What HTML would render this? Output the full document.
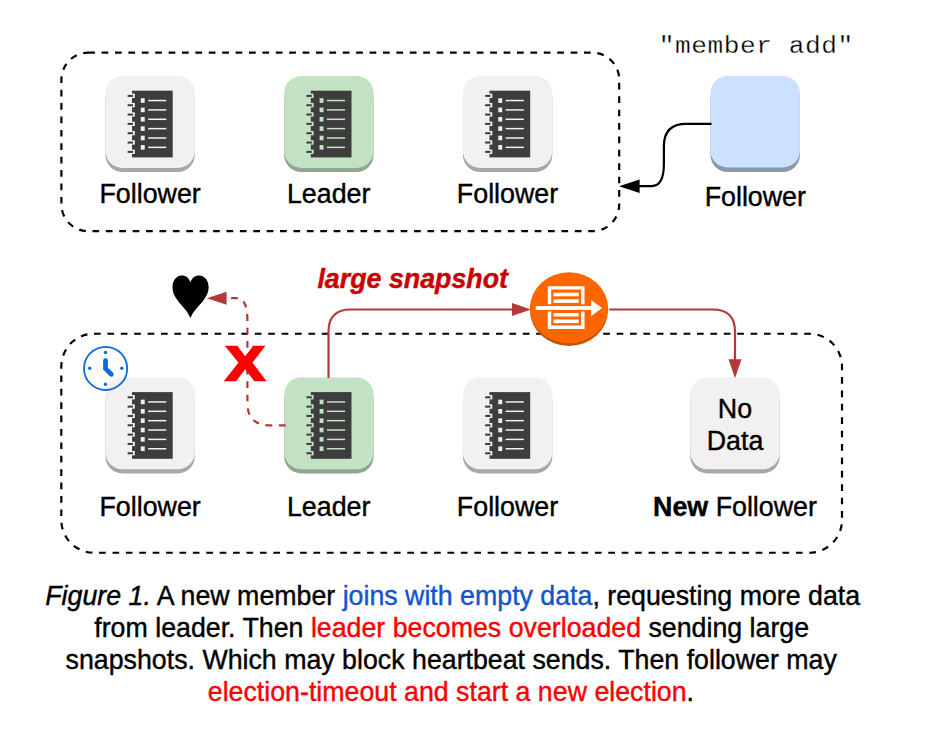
<!DOCTYPE html>
<html lang="en">
<head>
<meta charset="utf-8">
<title>Figure 1</title>
<style>
html,body{margin:0;padding:0;background:#ffffff;}
body{width:928px;height:747px;overflow:hidden;position:relative;}
svg{position:absolute;left:0;top:0;display:block;}
text{font-family:"Liberation Sans",Arial,Helvetica,sans-serif;font-size:26.8px;fill:#000;stroke:#000;stroke-width:0.4px;}
.blue{stroke:#1155cc;}
.red{stroke:#ff0000;}
.mono{font-family:"Liberation Mono","Courier New",monospace;font-size:26.2px;stroke:#fff;stroke-width:0.3px;letter-spacing:0.55px;}
.lbl{text-anchor:middle;}
.cap{text-anchor:middle;font-size:26.75px;}
.blue{fill:#1155cc;}
.red{fill:#ff0000;}
</style>
</head>
<body>
<svg width="928" height="747" viewBox="0 0 928 747">
<rect x="0" y="0" width="928" height="747" fill="#ffffff"/>

<rect x="61.4" y="52.7" width="557.8" height="178.5" rx="26.8" ry="26.8" fill="none" stroke="#000" stroke-width="2.2" stroke-dasharray="6.7 6.7"/>
<rect x="61.3" y="333.75" width="780.7" height="219" rx="32.7" ry="32.7" fill="none" stroke="#000" stroke-width="2.2" stroke-dasharray="6.7 6.7"/>
<rect x="105.40" y="82.00" width="89.4" height="90" rx="17" ry="17" fill="#a8a8a8"/>
<rect x="105.40" y="76.10" width="89.4" height="91.8" rx="17" ry="17" fill="#f2f0f1"/>
<rect x="132.00" y="90.70" width="40.70" height="66.70" fill="#3d3d3d"/>
<rect x="131.10" y="93.60" width="3.7" height="4.4" fill="#f2f0f1"/>
<rect x="127.60" y="94.90" width="5.4" height="2" fill="#3d3d3d"/>
<rect x="131.10" y="102.93" width="3.7" height="4.4" fill="#f2f0f1"/>
<rect x="127.60" y="104.23" width="5.4" height="2" fill="#3d3d3d"/>
<rect x="131.10" y="112.26" width="3.7" height="4.4" fill="#f2f0f1"/>
<rect x="127.60" y="113.56" width="5.4" height="2" fill="#3d3d3d"/>
<rect x="131.10" y="121.59" width="3.7" height="4.4" fill="#f2f0f1"/>
<rect x="127.60" y="122.89" width="5.4" height="2" fill="#3d3d3d"/>
<rect x="131.10" y="130.92" width="3.7" height="4.4" fill="#f2f0f1"/>
<rect x="127.60" y="132.22" width="5.4" height="2" fill="#3d3d3d"/>
<rect x="131.10" y="140.25" width="3.7" height="4.4" fill="#f2f0f1"/>
<rect x="127.60" y="141.55" width="5.4" height="2" fill="#3d3d3d"/>
<rect x="131.10" y="149.58" width="3.7" height="4.4" fill="#f2f0f1"/>
<rect x="127.60" y="150.88" width="5.4" height="2" fill="#3d3d3d"/>
<rect x="140.80" y="98.25" width="3.9" height="4.6" fill="#f2f0f1"/>
<rect x="148.10" y="99.80" width="18.2" height="1.5" fill="#f2f0f1"/>
<rect x="140.80" y="107.61" width="3.9" height="4.6" fill="#f2f0f1"/>
<rect x="148.10" y="109.16" width="18.2" height="1.5" fill="#f2f0f1"/>
<rect x="140.80" y="116.97" width="3.9" height="4.6" fill="#f2f0f1"/>
<rect x="148.10" y="118.52" width="18.2" height="1.5" fill="#f2f0f1"/>
<rect x="140.80" y="126.33" width="3.9" height="4.6" fill="#f2f0f1"/>
<rect x="148.10" y="127.88" width="18.2" height="1.5" fill="#f2f0f1"/>
<rect x="140.80" y="135.69" width="3.9" height="4.6" fill="#f2f0f1"/>
<rect x="148.10" y="137.24" width="18.2" height="1.5" fill="#f2f0f1"/>
<rect x="140.80" y="145.05" width="3.9" height="4.6" fill="#f2f0f1"/>
<rect x="148.10" y="146.60" width="18.2" height="1.5" fill="#f2f0f1"/>
<rect x="284.20" y="82.00" width="89.4" height="90" rx="17" ry="17" fill="#8fa690"/>
<rect x="284.20" y="76.10" width="89.4" height="91.8" rx="17" ry="17" fill="#c3e2c4"/>
<rect x="310.80" y="90.70" width="40.70" height="66.70" fill="#3d3d3d"/>
<rect x="309.90" y="93.60" width="3.7" height="4.4" fill="#c3e2c4"/>
<rect x="306.40" y="94.90" width="5.4" height="2" fill="#3d3d3d"/>
<rect x="309.90" y="102.93" width="3.7" height="4.4" fill="#c3e2c4"/>
<rect x="306.40" y="104.23" width="5.4" height="2" fill="#3d3d3d"/>
<rect x="309.90" y="112.26" width="3.7" height="4.4" fill="#c3e2c4"/>
<rect x="306.40" y="113.56" width="5.4" height="2" fill="#3d3d3d"/>
<rect x="309.90" y="121.59" width="3.7" height="4.4" fill="#c3e2c4"/>
<rect x="306.40" y="122.89" width="5.4" height="2" fill="#3d3d3d"/>
<rect x="309.90" y="130.92" width="3.7" height="4.4" fill="#c3e2c4"/>
<rect x="306.40" y="132.22" width="5.4" height="2" fill="#3d3d3d"/>
<rect x="309.90" y="140.25" width="3.7" height="4.4" fill="#c3e2c4"/>
<rect x="306.40" y="141.55" width="5.4" height="2" fill="#3d3d3d"/>
<rect x="309.90" y="149.58" width="3.7" height="4.4" fill="#c3e2c4"/>
<rect x="306.40" y="150.88" width="5.4" height="2" fill="#3d3d3d"/>
<rect x="319.60" y="98.25" width="3.9" height="4.6" fill="#c3e2c4"/>
<rect x="326.90" y="99.80" width="18.2" height="1.5" fill="#c3e2c4"/>
<rect x="319.60" y="107.61" width="3.9" height="4.6" fill="#c3e2c4"/>
<rect x="326.90" y="109.16" width="18.2" height="1.5" fill="#c3e2c4"/>
<rect x="319.60" y="116.97" width="3.9" height="4.6" fill="#c3e2c4"/>
<rect x="326.90" y="118.52" width="18.2" height="1.5" fill="#c3e2c4"/>
<rect x="319.60" y="126.33" width="3.9" height="4.6" fill="#c3e2c4"/>
<rect x="326.90" y="127.88" width="18.2" height="1.5" fill="#c3e2c4"/>
<rect x="319.60" y="135.69" width="3.9" height="4.6" fill="#c3e2c4"/>
<rect x="326.90" y="137.24" width="18.2" height="1.5" fill="#c3e2c4"/>
<rect x="319.60" y="145.05" width="3.9" height="4.6" fill="#c3e2c4"/>
<rect x="326.90" y="146.60" width="18.2" height="1.5" fill="#c3e2c4"/>
<rect x="462.90" y="82.00" width="89.4" height="90" rx="17" ry="17" fill="#a8a8a8"/>
<rect x="462.90" y="76.10" width="89.4" height="91.8" rx="17" ry="17" fill="#f2f0f1"/>
<rect x="489.50" y="90.70" width="40.70" height="66.70" fill="#3d3d3d"/>
<rect x="488.60" y="93.60" width="3.7" height="4.4" fill="#f2f0f1"/>
<rect x="485.10" y="94.90" width="5.4" height="2" fill="#3d3d3d"/>
<rect x="488.60" y="102.93" width="3.7" height="4.4" fill="#f2f0f1"/>
<rect x="485.10" y="104.23" width="5.4" height="2" fill="#3d3d3d"/>
<rect x="488.60" y="112.26" width="3.7" height="4.4" fill="#f2f0f1"/>
<rect x="485.10" y="113.56" width="5.4" height="2" fill="#3d3d3d"/>
<rect x="488.60" y="121.59" width="3.7" height="4.4" fill="#f2f0f1"/>
<rect x="485.10" y="122.89" width="5.4" height="2" fill="#3d3d3d"/>
<rect x="488.60" y="130.92" width="3.7" height="4.4" fill="#f2f0f1"/>
<rect x="485.10" y="132.22" width="5.4" height="2" fill="#3d3d3d"/>
<rect x="488.60" y="140.25" width="3.7" height="4.4" fill="#f2f0f1"/>
<rect x="485.10" y="141.55" width="5.4" height="2" fill="#3d3d3d"/>
<rect x="488.60" y="149.58" width="3.7" height="4.4" fill="#f2f0f1"/>
<rect x="485.10" y="150.88" width="5.4" height="2" fill="#3d3d3d"/>
<rect x="498.30" y="98.25" width="3.9" height="4.6" fill="#f2f0f1"/>
<rect x="505.60" y="99.80" width="18.2" height="1.5" fill="#f2f0f1"/>
<rect x="498.30" y="107.61" width="3.9" height="4.6" fill="#f2f0f1"/>
<rect x="505.60" y="109.16" width="18.2" height="1.5" fill="#f2f0f1"/>
<rect x="498.30" y="116.97" width="3.9" height="4.6" fill="#f2f0f1"/>
<rect x="505.60" y="118.52" width="18.2" height="1.5" fill="#f2f0f1"/>
<rect x="498.30" y="126.33" width="3.9" height="4.6" fill="#f2f0f1"/>
<rect x="505.60" y="127.88" width="18.2" height="1.5" fill="#f2f0f1"/>
<rect x="498.30" y="135.69" width="3.9" height="4.6" fill="#f2f0f1"/>
<rect x="505.60" y="137.24" width="18.2" height="1.5" fill="#f2f0f1"/>
<rect x="498.30" y="145.05" width="3.9" height="4.6" fill="#f2f0f1"/>
<rect x="505.60" y="146.60" width="18.2" height="1.5" fill="#f2f0f1"/>
<rect x="710.50" y="82.00" width="89.4" height="90" rx="17" ry="17" fill="#8a98ad"/>
<rect x="710.50" y="76.10" width="89.4" height="91.3" rx="17" ry="17" fill="#cce0ff"/>

<rect x="105.40" y="383.40" width="89.4" height="90" rx="17" ry="17" fill="#a8a8a8"/>
<rect x="105.40" y="377.50" width="89.4" height="91.8" rx="17" ry="17" fill="#f2f0f1"/>
<rect x="132.00" y="392.10" width="40.70" height="66.70" fill="#3d3d3d"/>
<rect x="131.10" y="395.00" width="3.7" height="4.4" fill="#f2f0f1"/>
<rect x="127.60" y="396.30" width="5.4" height="2" fill="#3d3d3d"/>
<rect x="131.10" y="404.33" width="3.7" height="4.4" fill="#f2f0f1"/>
<rect x="127.60" y="405.63" width="5.4" height="2" fill="#3d3d3d"/>
<rect x="131.10" y="413.66" width="3.7" height="4.4" fill="#f2f0f1"/>
<rect x="127.60" y="414.96" width="5.4" height="2" fill="#3d3d3d"/>
<rect x="131.10" y="422.99" width="3.7" height="4.4" fill="#f2f0f1"/>
<rect x="127.60" y="424.29" width="5.4" height="2" fill="#3d3d3d"/>
<rect x="131.10" y="432.32" width="3.7" height="4.4" fill="#f2f0f1"/>
<rect x="127.60" y="433.62" width="5.4" height="2" fill="#3d3d3d"/>
<rect x="131.10" y="441.65" width="3.7" height="4.4" fill="#f2f0f1"/>
<rect x="127.60" y="442.95" width="5.4" height="2" fill="#3d3d3d"/>
<rect x="131.10" y="450.98" width="3.7" height="4.4" fill="#f2f0f1"/>
<rect x="127.60" y="452.28" width="5.4" height="2" fill="#3d3d3d"/>
<rect x="140.80" y="399.65" width="3.9" height="4.6" fill="#f2f0f1"/>
<rect x="148.10" y="401.20" width="18.2" height="1.5" fill="#f2f0f1"/>
<rect x="140.80" y="409.01" width="3.9" height="4.6" fill="#f2f0f1"/>
<rect x="148.10" y="410.56" width="18.2" height="1.5" fill="#f2f0f1"/>
<rect x="140.80" y="418.37" width="3.9" height="4.6" fill="#f2f0f1"/>
<rect x="148.10" y="419.92" width="18.2" height="1.5" fill="#f2f0f1"/>
<rect x="140.80" y="427.73" width="3.9" height="4.6" fill="#f2f0f1"/>
<rect x="148.10" y="429.28" width="18.2" height="1.5" fill="#f2f0f1"/>
<rect x="140.80" y="437.09" width="3.9" height="4.6" fill="#f2f0f1"/>
<rect x="148.10" y="438.64" width="18.2" height="1.5" fill="#f2f0f1"/>
<rect x="140.80" y="446.45" width="3.9" height="4.6" fill="#f2f0f1"/>
<rect x="148.10" y="448.00" width="18.2" height="1.5" fill="#f2f0f1"/>
<rect x="284.20" y="383.40" width="89.4" height="90" rx="17" ry="17" fill="#8fa690"/>
<rect x="284.20" y="377.50" width="89.4" height="91.8" rx="17" ry="17" fill="#c3e2c4"/>
<rect x="310.80" y="392.10" width="40.70" height="66.70" fill="#3d3d3d"/>
<rect x="309.90" y="395.00" width="3.7" height="4.4" fill="#c3e2c4"/>
<rect x="306.40" y="396.30" width="5.4" height="2" fill="#3d3d3d"/>
<rect x="309.90" y="404.33" width="3.7" height="4.4" fill="#c3e2c4"/>
<rect x="306.40" y="405.63" width="5.4" height="2" fill="#3d3d3d"/>
<rect x="309.90" y="413.66" width="3.7" height="4.4" fill="#c3e2c4"/>
<rect x="306.40" y="414.96" width="5.4" height="2" fill="#3d3d3d"/>
<rect x="309.90" y="422.99" width="3.7" height="4.4" fill="#c3e2c4"/>
<rect x="306.40" y="424.29" width="5.4" height="2" fill="#3d3d3d"/>
<rect x="309.90" y="432.32" width="3.7" height="4.4" fill="#c3e2c4"/>
<rect x="306.40" y="433.62" width="5.4" height="2" fill="#3d3d3d"/>
<rect x="309.90" y="441.65" width="3.7" height="4.4" fill="#c3e2c4"/>
<rect x="306.40" y="442.95" width="5.4" height="2" fill="#3d3d3d"/>
<rect x="309.90" y="450.98" width="3.7" height="4.4" fill="#c3e2c4"/>
<rect x="306.40" y="452.28" width="5.4" height="2" fill="#3d3d3d"/>
<rect x="319.60" y="399.65" width="3.9" height="4.6" fill="#c3e2c4"/>
<rect x="326.90" y="401.20" width="18.2" height="1.5" fill="#c3e2c4"/>
<rect x="319.60" y="409.01" width="3.9" height="4.6" fill="#c3e2c4"/>
<rect x="326.90" y="410.56" width="18.2" height="1.5" fill="#c3e2c4"/>
<rect x="319.60" y="418.37" width="3.9" height="4.6" fill="#c3e2c4"/>
<rect x="326.90" y="419.92" width="18.2" height="1.5" fill="#c3e2c4"/>
<rect x="319.60" y="427.73" width="3.9" height="4.6" fill="#c3e2c4"/>
<rect x="326.90" y="429.28" width="18.2" height="1.5" fill="#c3e2c4"/>
<rect x="319.60" y="437.09" width="3.9" height="4.6" fill="#c3e2c4"/>
<rect x="326.90" y="438.64" width="18.2" height="1.5" fill="#c3e2c4"/>
<rect x="319.60" y="446.45" width="3.9" height="4.6" fill="#c3e2c4"/>
<rect x="326.90" y="448.00" width="18.2" height="1.5" fill="#c3e2c4"/>
<rect x="462.90" y="383.40" width="89.4" height="90" rx="17" ry="17" fill="#a8a8a8"/>
<rect x="462.90" y="377.50" width="89.4" height="91.8" rx="17" ry="17" fill="#f2f0f1"/>
<rect x="489.50" y="392.10" width="40.70" height="66.70" fill="#3d3d3d"/>
<rect x="488.60" y="395.00" width="3.7" height="4.4" fill="#f2f0f1"/>
<rect x="485.10" y="396.30" width="5.4" height="2" fill="#3d3d3d"/>
<rect x="488.60" y="404.33" width="3.7" height="4.4" fill="#f2f0f1"/>
<rect x="485.10" y="405.63" width="5.4" height="2" fill="#3d3d3d"/>
<rect x="488.60" y="413.66" width="3.7" height="4.4" fill="#f2f0f1"/>
<rect x="485.10" y="414.96" width="5.4" height="2" fill="#3d3d3d"/>
<rect x="488.60" y="422.99" width="3.7" height="4.4" fill="#f2f0f1"/>
<rect x="485.10" y="424.29" width="5.4" height="2" fill="#3d3d3d"/>
<rect x="488.60" y="432.32" width="3.7" height="4.4" fill="#f2f0f1"/>
<rect x="485.10" y="433.62" width="5.4" height="2" fill="#3d3d3d"/>
<rect x="488.60" y="441.65" width="3.7" height="4.4" fill="#f2f0f1"/>
<rect x="485.10" y="442.95" width="5.4" height="2" fill="#3d3d3d"/>
<rect x="488.60" y="450.98" width="3.7" height="4.4" fill="#f2f0f1"/>
<rect x="485.10" y="452.28" width="5.4" height="2" fill="#3d3d3d"/>
<rect x="498.30" y="399.65" width="3.9" height="4.6" fill="#f2f0f1"/>
<rect x="505.60" y="401.20" width="18.2" height="1.5" fill="#f2f0f1"/>
<rect x="498.30" y="409.01" width="3.9" height="4.6" fill="#f2f0f1"/>
<rect x="505.60" y="410.56" width="18.2" height="1.5" fill="#f2f0f1"/>
<rect x="498.30" y="418.37" width="3.9" height="4.6" fill="#f2f0f1"/>
<rect x="505.60" y="419.92" width="18.2" height="1.5" fill="#f2f0f1"/>
<rect x="498.30" y="427.73" width="3.9" height="4.6" fill="#f2f0f1"/>
<rect x="505.60" y="429.28" width="18.2" height="1.5" fill="#f2f0f1"/>
<rect x="498.30" y="437.09" width="3.9" height="4.6" fill="#f2f0f1"/>
<rect x="505.60" y="438.64" width="18.2" height="1.5" fill="#f2f0f1"/>
<rect x="498.30" y="446.45" width="3.9" height="4.6" fill="#f2f0f1"/>
<rect x="505.60" y="448.00" width="18.2" height="1.5" fill="#f2f0f1"/>
<rect x="690.30" y="383.40" width="89.4" height="90" rx="17" ry="17" fill="#a8a8a8"/>
<rect x="690.30" y="377.50" width="89.4" height="91.8" rx="17" ry="17" fill="#f2f0f1"/>

<text class="lbl" x="150.1" y="203">Follower</text>
<text class="lbl" x="150.1" y="516">Follower</text>
<text class="lbl" x="328.7" y="203">Leader</text>
<text class="lbl" x="328.7" y="516">Leader</text>
<text class="lbl" x="507.5" y="203">Follower</text>
<text class="lbl" x="507.5" y="516">Follower</text>
<text class="lbl" x="755.3" y="206">Follower</text>
<text class="lbl" x="735" y="515.8"><tspan font-weight="bold">New</tspan> Follower</text>
<text class="lbl" x="735" y="417.9">No</text>
<text class="lbl" x="735" y="450">Data</text>
<text class="mono lbl" x="756.3" y="52.6" transform="translate(0 52.6) scale(1 0.94) translate(0 -52.6)">"member add"</text>
<text x="317.4" y="287.6" font-weight="bold" font-style="italic" style="fill:#cc0000;stroke:#cc0000">large snapshot</text>
<path d="M711.5 123.9 H686.2 Q663.9 123.9 663.9 146.2 V163.8 Q663.9 186.1 651.7 186.1 H639" fill="none" stroke="#000" stroke-width="2.2"/>
<path d="M619 186.3 L639.6 179.5 L639.6 193.1 Z" fill="#000"/>
<path d="M328.5 378 V331.8 Q328.5 309.5 350.8 309.5 H513" fill="none" stroke="#b5393c" stroke-width="2.2"/>
<path d="M531 309.5 L512 303 L512 316 Z" fill="#b5393c"/>
<path d="M609.2 309.5 H712.7 Q735 309.5 735 331.8 V360" fill="none" stroke="#b5393c" stroke-width="2.2"/>
<path d="M735 378.2 L728.5 359.3 L741.5 359.3 Z" fill="#b5393c"/>
<path d="M285.7 425.3 H269.7 Q247.4 425.3 247.4 403 V320.5 Q247.4 298.2 237.2 298.2 H226.8" fill="none" stroke="#b5393c" stroke-width="2.2" stroke-dasharray="6.7 6.7"/>
<path d="M206.8 298.2 L226.6 291.7 L226.6 304.7 Z" fill="#b5393c"/>
<path d="M190.4 317.9 C187.5 311 182 306 178 301 C174 296 172.5 292 172.5 287.3 C172.5 280.5 176.5 275.6 182 275.6 C186 275.6 189 278 190.4 282.4 C191.8 278 195 275.6 199 275.6 C204.5 275.6 208.6 280.5 208.6 287.3 C208.6 292 207 296 203 301 C199 306 193.3 311 190.4 317.9 Z" fill="#000"/>
<text x="245.15" y="379.6" text-anchor="middle" font-weight="bold" style="font-size:47.8px;fill:#ff0000;stroke:#ff0000;stroke-width:2.5px;stroke-linejoin:miter" transform="translate(245.15 0) scale(1.205 1) translate(-245.15 0)">X</text>
<g fill="none" stroke="#0b6cde"><circle cx="105.6" cy="368.4" r="21.6" stroke-width="1.8"/><path d="M105.5 360.7 V368.6 L111.3 374.3" stroke-width="4.8" stroke-linecap="round" stroke-linejoin="miter"/></g><g fill="#0b6cde"><circle cx="105.5" cy="352.4" r="1.7"/><circle cx="105.5" cy="384.2" r="1.7"/><circle cx="89.7" cy="368.3" r="1.7"/><circle cx="121.8" cy="368.3" r="1.7"/></g>
<ellipse cx="569" cy="310.5" rx="39" ry="35.5" fill="#c4540c"/>
<ellipse cx="569" cy="307.8" rx="39" ry="35.5" fill="#ff6600"/>
<g fill="none" stroke="#fff" stroke-width="3.4"><path d="M549.5 304.3 V287.9 H582.8 V304.3"/><path d="M549.5 311.5 V327.2 H582.8 V311.5"/></g>
<g fill="#fff"><rect x="553.5" y="292.7" width="25.2" height="3.6"/><rect x="553.5" y="299.3" width="25.2" height="3.6"/><rect x="553.5" y="313" width="25.2" height="3.5"/><rect x="553.5" y="319.5" width="25.2" height="3.6"/><rect x="535.7" y="306.1" width="56" height="3.8"/><path d="M591.2 299.9 L602 308 L591.2 316.2 Z"/></g>
<text class="cap" x="452.7" y="605.4"><tspan font-style="italic">Figure 1.</tspan> A new member <tspan class="blue">joins with empty data</tspan>, requesting more data</text>
<text class="cap" x="451.7" y="636.9">from leader. Then <tspan class="red">leader becomes overloaded</tspan> sending large</text>
<text class="cap" x="451.2" y="668.8">snapshots. Which may block heartbeat sends. Then follower may</text>
<text class="cap" x="450.9" y="701.3"><tspan class="red">election-timeout and start a new election</tspan>.</text>
</svg>
</body>
</html>
